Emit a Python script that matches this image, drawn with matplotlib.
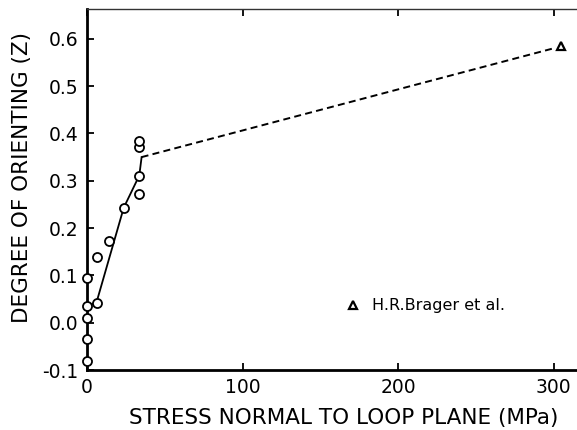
import numpy as np
import matplotlib
matplotlib.use("Agg")
import matplotlib.pyplot as plt

# measured points (open circles)
stress = [0, 0, 0, 0, 0, 6, 6.5, 14, 23.5, 33.5, 33.5, 33.5, 33.5]
orient = [0.095, 0.035, 0.009, -0.035, -0.08, 0.041, 0.138, 0.172, 0.243, 0.311, 0.271, 0.372, 0.384]

# solid fit line
fit_x = [0, 0, 6, 23.5, 33.5, 35]
fit_y = [-0.1, 0.035, 0.043, 0.243, 0.311, 0.35]

# dashed extension towards Brager point
ext_x = [35, 300]
ext_y = [0.35, 0.58]

# H.R.Brager et al. point
brager_x = [305]
brager_y = [0.584]

xticks = [0, 100, 200, 300]
yticks = [-0.1, 0.0, 0.1, 0.2, 0.3, 0.4, 0.5, 0.6]
ylabels = ["-0.1", "0.0", "0.1", "0.2", "0.3", "0.4", "0.5", "0.6"]

fig = plt.figure(figsize=(5.77, 4.30), dpi=100)
ax = fig.add_axes([0.1511, 0.1395, 0.8489, 0.8395])

ax.plot(fit_x, fit_y, color="black", lw=1.3)
ax.plot(ext_x, ext_y, color="black", lw=1.4, dashes=(3.6, 2.2))
ax.plot(stress, orient, "o", ms=6.5, mfc="white", mec="black", mew=1.3, clip_on=False, zorder=5)
ax.plot(brager_x, brager_y, "^", ms=6, mfc="white", mec="black", mew=1.6, clip_on=False)

# legend-like annotation
ax.plot([171], [0.037], "^", ms=6, mfc="white", mec="black", mew=1.6)
ax.text(183, 0.037, "H.R.Brager et al.", fontsize=11.5, va="center", ha="left")

ax.set_xlim(0, 315)
ax.set_ylim(-0.1, 0.663)
ax.set_xticks(xticks)
ax.set_xticklabels([str(t) for t in xticks], fontsize=13.5)
ax.set_yticks(yticks)
ax.set_yticklabels(ylabels, fontsize=13.5)
ax.tick_params(direction="in", length=5, width=1.3, top=True, pad=6)

ax.spines["right"].set_visible(False)
ax.spines["left"].set_linewidth(2)
ax.spines["bottom"].set_linewidth(2)
ax.spines["top"].set_linewidth(1)
ax.spines["top"].set_color("#333333")

fig.text(0.596, 0.028, "STRESS NORMAL TO LOOP PLANE (MPa)", fontsize=15.5, ha="center", va="center")
fig.text(0.038, 0.588, "DEGREE OF ORIENTING (Z)", fontsize=15.5, ha="center", va="center", rotation=90)

fig.savefig("out.png", dpi=100)
